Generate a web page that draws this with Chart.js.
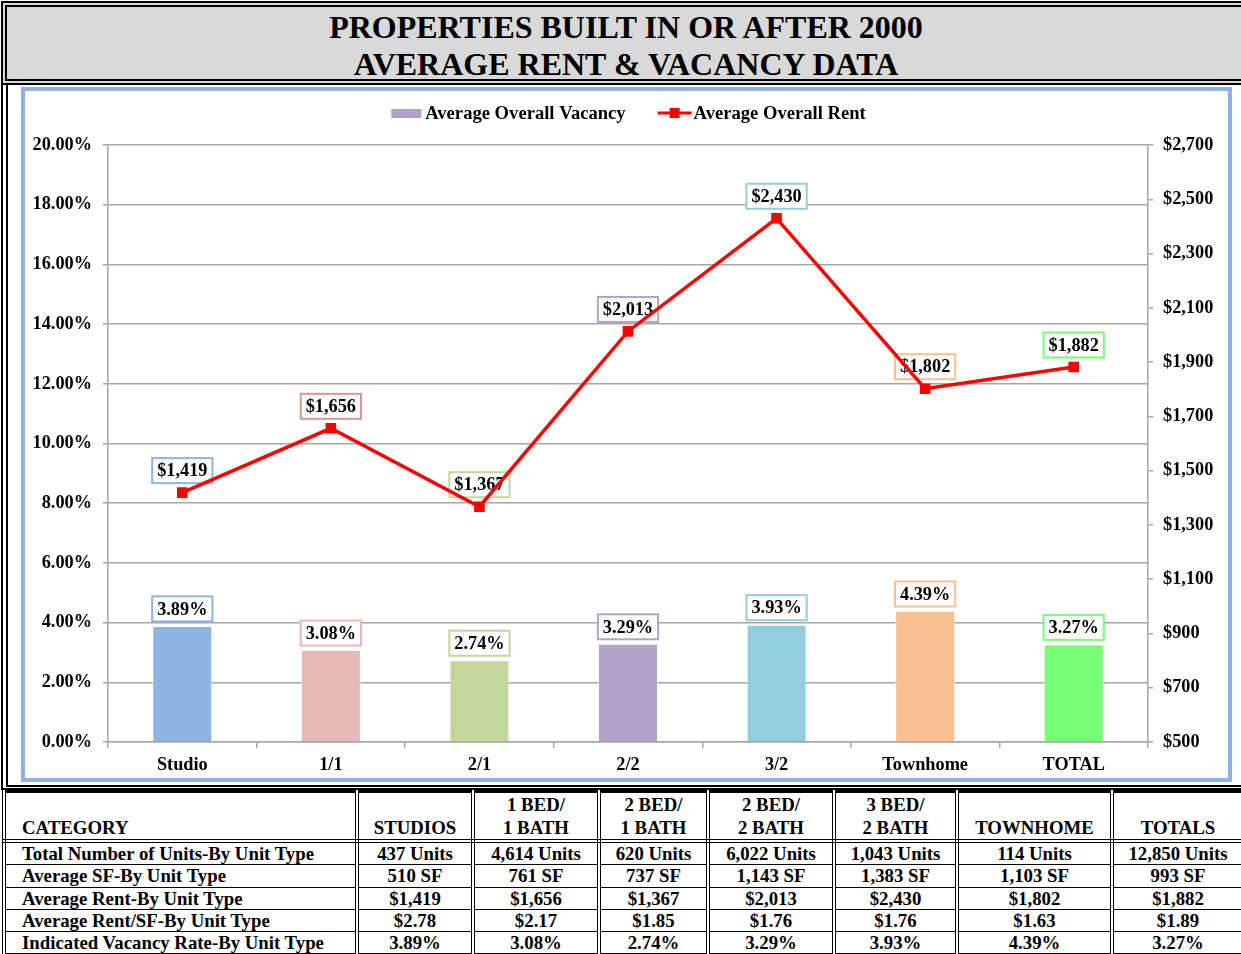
<!DOCTYPE html>
<html>
<head>
<meta charset="utf-8">
<script src="https://cdn.jsdelivr.net/npm/chart.js@4.4.1/dist/chart.umd.min.js"></script>
<style>
html, body { margin: 0; padding: 0; background: #fff; }
body { width: 1241px; height: 954px; overflow: hidden; position: relative;
  font-family: "Liberation Serif", "Times New Roman", serif; font-weight: bold; color: #000; }
#head { position: absolute; left: 1px; top: 1px; width: 1238px; height: 70px; padding-top: 2px;
  border: 6px double #000; background: #d9d9d9; text-align: center; font-size: 32px; line-height: 37px; }
#chartBox { position: absolute; left: 1px; top: 85px; width: 1260px; height: 700px;
  border-left: 7px double #000; border-bottom: 5px double #000; }
#blue { position: absolute; left: 21px; top: 87px; width: 1203px; height: 687px; border: 4px solid #8db3e2; background: #fff; }
table { position: absolute; left: 2px; top: 790px; width: 1240px; border-collapse: collapse; table-layout: fixed; font-size: 18.8px; }
th, td { border-left: 4px double #000; border-right: 4px double #000; padding: 0; text-align: center; white-space: nowrap; overflow: hidden; }
thead tr { border-top: 3px solid #000; }
thead th { height: 42px; vertical-align: bottom; line-height: 23px; border-bottom: 4px double #000; }
tbody td { height: 21.25px; line-height: 21px; border-bottom: 1px solid #000; }
.c { text-align: left; padding-left: 16px; }
</style>
</head>
<body>
<div id="head">PROPERTIES BUILT IN OR AFTER 2000<br>AVERAGE RENT &amp; VACANCY DATA</div>
<div id="chartBox"></div>
<div id="blue"><canvas id="rentChart"></canvas></div>
<table id="tbl">
  <colgroup>
    <col style="width:353px"><col style="width:116px"><col style="width:126px"><col style="width:109px">
    <col style="width:126px"><col style="width:123px"><col style="width:155px"><col style="width:132px">
  </colgroup>
  <thead><tr id="tblHead"></tr></thead>
  <tbody id="tblBody"></tbody>
</table>
<script>
// chart data
const categories = ['Studio', '1/1', '2/1', '2/2', '3/2', 'Townhome', 'TOTAL'];
const vacancy = [3.89, 3.08, 2.74, 3.29, 3.93, 4.39, 3.27];
const rent = [1419, 1656, 1367, 2013, 2430, 1802, 1882];
const vacancyTicks = { min: 0, max: 20, step: 2 };
const rentTicks = { min: 500, max: 2700, step: 200 };

const barColors = ['#8db4e2', '#e6b8b7', '#c4d79b', '#b3a2c7', '#92cddc', '#fac090', '#77ff77'];
const rentBoxColors = ['#8db4e2', '#d99694', '#c4d79b', '#b3a2c7', '#92cddc', '#fac090', '#77ff77'];

// table data
const tblHeaders = ['CATEGORY', 'STUDIOS', '1 BED/<br>1 BATH', '2 BED/<br>1 BATH', '2 BED/<br>2 BATH', '3 BED/<br>2 BATH', 'TOWNHOME', 'TOTALS'];
const rowLabels = ['Total Number of Units-By Unit Type', 'Average SF-By Unit Type', 'Average Rent-By Unit Type',
  'Average Rent/SF-By Unit Type', 'Indicated Vacancy Rate-By Unit Type'];
const unitsRow = ['437 Units', '4,614 Units', '620 Units', '6,022 Units', '1,043 Units', '114 Units', '12,850 Units'];
const sfRow = ['510 SF', '761 SF', '737 SF', '1,143 SF', '1,383 SF', '1,103 SF', '993 SF'];
const rentRow = ['$1,419', '$1,656', '$1,367', '$2,013', '$2,430', '$1,802', '$1,882'];
const rentSfRow = ['$2.78', '$2.17', '$1.85', '$1.76', '$1.76', '$1.63', '$1.89'];
const vacRow = ['3.89%', '3.08%', '2.74%', '3.29%', '3.93%', '4.39%', '3.27%'];

const FONT = '"Liberation Serif", "Times New Roman", serif';
const fmtRent = v => '$' + v.toLocaleString('en-US');

// table
document.getElementById('tblHead').innerHTML =
  tblHeaders.map((h, i) => `<th class="${i === 0 ? 'c' : ''}">${h}</th>`).join('');
document.getElementById('tblBody').innerHTML =
  [unitsRow, sfRow, rentRow, rentSfRow, vacRow].map((r, i) =>
    `<tr><td class="c">${rowLabels[i]}</td>${r.map(v => `<td>${v}</td>`).join('')}</tr>`).join('');

// boxed value labels, drawn under the line
const boxLabels = {
  id: 'boxLabels',
  beforeDatasetsDraw(chart) {
    const ctx = chart.ctx;
    ctx.save();
    ctx.font = 'bold 18.3px ' + FONT;
    ctx.textAlign = 'center';
    ctx.textBaseline = 'middle';
    chart.data.datasets.forEach((ds, di) => {
      const isBar = ds.type === 'bar';
      chart.getDatasetMeta(di).data.forEach((el, i) => {
        const txt = isBar ? ds.data[i].toFixed(2) + '%' : fmtRent(ds.data[i]);
        const cy = isBar ? el.y - 17 : el.y - 22;
        const w = ctx.measureText(txt).width + 10, h = 25;
        ctx.fillStyle = '#fff';
        ctx.fillRect(el.x - w / 2, cy - h / 2, w, h);
        ctx.strokeStyle = isBar ? barColors[i] : rentBoxColors[i];
        ctx.lineWidth = 2;
        ctx.strokeRect(el.x - w / 2, cy - h / 2, w, h);
        ctx.fillStyle = '#000';
        ctx.fillText(txt, el.x, cy + 1);
      });
    });
    ctx.restore();
  }
};

// legend like the original: swatch for bars, line + square for rent
const topLegend = {
  id: 'topLegend',
  afterDraw(chart) {
    const ctx = chart.ctx;
    const [barDs, lineDs] = [chart.data.datasets[1], chart.data.datasets[0]];
    ctx.save();
    ctx.font = 'bold 18.6px ' + FONT;
    ctx.textBaseline = 'middle';
    const w1 = ctx.measureText(barDs.label).width, w2 = ctx.measureText(lineDs.label).width;
    const total = 30 + 4 + w1 + 32 + 34 + 2 + w2;
    let x = chart.width / 2 - total / 2 + 2;
    const y = 22;
    ctx.fillStyle = '#b3a2c7';
    ctx.fillRect(x, y - 4, 30, 9);
    x += 34;
    ctx.fillStyle = '#000';
    ctx.fillText(barDs.label, x, y + 1);
    x += w1 + 32;
    ctx.strokeStyle = '#ff0000';
    ctx.lineWidth = 3;
    ctx.beginPath(); ctx.moveTo(x, y); ctx.lineTo(x + 34, y); ctx.stroke();
    ctx.fillStyle = '#ff0000';
    ctx.fillRect(x + 17 - 5, y - 5, 10, 10);
    x += 36;
    ctx.fillStyle = '#000';
    ctx.fillText(lineDs.label, x, y + 1);
    ctx.restore();
  }
};

const tickFont = { family: FONT, size: 18.3, weight: 'bold' };
const axisGray = '#a6a6a6';

new Chart(document.getElementById('rentChart'), {
  data: {
    labels: categories,
    datasets: [
      {
        type: 'line', label: 'Average Overall Rent', data: rent, yAxisID: 'y1',
        borderColor: '#ff0000', borderWidth: 3.5, tension: 0,
        pointStyle: 'rect', pointRadius: 7.5, pointBackgroundColor: '#ff0000', pointBorderColor: '#ff0000', pointBorderWidth: 0,
        order: 0
      },
      {
        type: 'bar', label: 'Average Overall Vacancy', data: vacancy, yAxisID: 'y',
        backgroundColor: barColors, borderColor: 'rgba(255,255,255,0.5)', borderWidth: 1,
        categoryPercentage: 1, barPercentage: 0.404, order: 1
      }
    ]
  },
  options: {
    responsive: true, maintainAspectRatio: false, animation: false,
    layout: { padding: { top: 54, left: 0, right: 0, bottom: 0 } },
    plugins: { legend: { display: false }, tooltip: { enabled: false } },
    scales: {
      x: {
        offset: true,
        grid: { display: true, drawOnChartArea: false, offset: true, tickLength: 6, color: axisGray, lineWidth: 1.5 },
        border: { color: axisGray, width: 1.5 },
        ticks: { color: '#000', font: tickFont, padding: 6, maxRotation: 0 },
        afterFit: s => { s.height = 36; }
      },
      y: {
        position: 'left', min: vacancyTicks.min, max: vacancyTicks.max,
        grid: { color: axisGray, lineWidth: 1.5, tickLength: 5 },
        border: { color: axisGray, width: 1.5 },
        ticks: { stepSize: vacancyTicks.step, color: '#000', font: tickFont, padding: 11, callback: v => v.toFixed(2) + '%' },
        afterFit: s => { s.width = 83; }
      },
      y1: {
        position: 'right', min: rentTicks.min, max: rentTicks.max,
        grid: { drawOnChartArea: false, color: axisGray, lineWidth: 1.5, tickLength: 5 },
        border: { color: axisGray, width: 1.5 },
        ticks: { stepSize: rentTicks.step, color: '#000', font: tickFont, padding: 10, callback: v => fmtRent(v) },
        afterFit: s => { s.width = 80; }
      }
    }
  },
  plugins: [boxLabels, topLegend]
});
</script>
</body>
</html>
